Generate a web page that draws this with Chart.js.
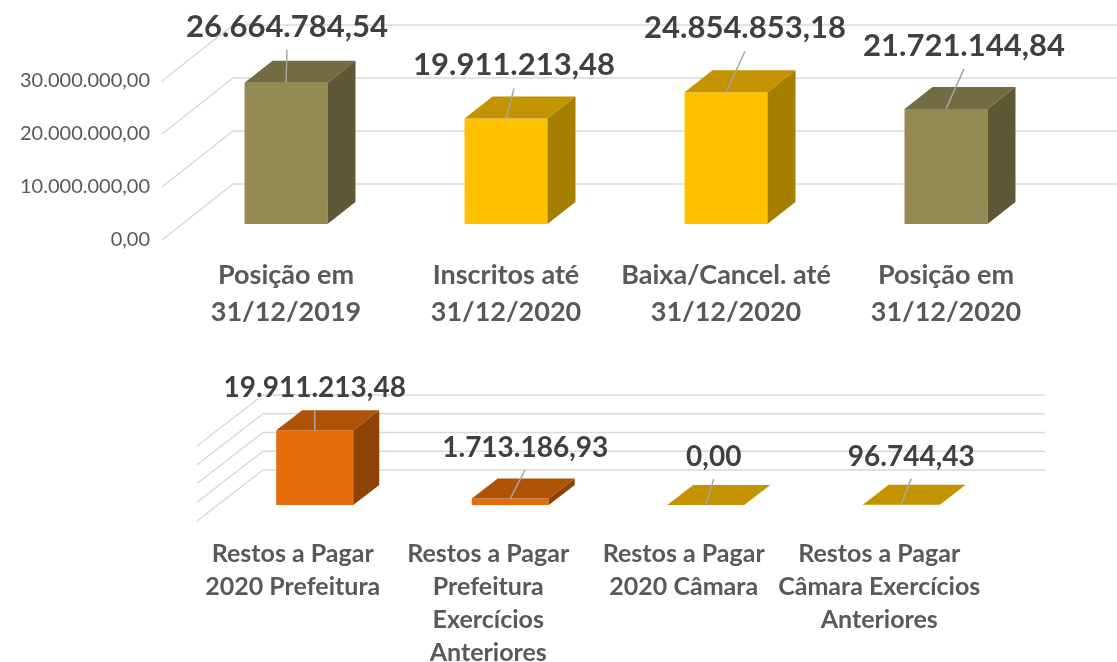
<!DOCTYPE html>
<html>
<head>
<meta charset="utf-8">
<script src="https://cdn.jsdelivr.net/npm/chart.js@4.4.1/dist/chart.umd.min.js"></script>
<style>
html, body { margin: 0; padding: 0; background: #fff; }
#wrap { position: relative; width: 1117px; height: 662px; overflow: hidden; }
#top { position: absolute; left: 0; top: 0; }
#bottom { position: absolute; left: 0; top: 345px; }
</style>
</head>
<body>
<div id="wrap">
  <canvas id="top" width="1117" height="345"></canvas>
  <canvas id="bottom" width="1117" height="317"></canvas>
</div>
<script>
// data
const topCategories = [['Posição em', '31/12/2019'], ['Inscritos até', '31/12/2020'], ['Baixa/Cancel. até', '31/12/2020'], ['Posição em', '31/12/2020']];
const topValues = [26664784.54, 19911213.48, 24854853.18, 21721144.84];
const topMax = 30000000;
const topStep = 10000000;

const bottomCategories = [['Restos a Pagar', '2020 Prefeitura'], ['Restos a Pagar', 'Prefeitura', 'Exercícios', 'Anteriores'], ['Restos a Pagar', '2020 Câmara'], ['Restos a Pagar', 'Câmara Exercícios', 'Anteriores']];
const bottomValues = [19911213.48, 1713186.93, 0, 96744.43];
const bottomMax = 20000000;
const bottomStep = 5000000;

// colours (front / top / side)
const olive = { front: '#948A54', top: '#736B42', side: '#5E5836' };
const yellow = { front: '#FFC000', top: '#C39300', side: '#A67E00' };
const orange = { front: '#E46C0A', top: '#AF5306', side: '#8E4306' };
const topPalette = [olive, yellow, yellow, olive];
const bottomPalette = [orange, orange, yellow, yellow];

function brl(v) {
    const [i, d] = Math.abs(v).toFixed(2).split('.');
    return i.replace(/\B(?=(\d{3})+(?!\d))/g, '.') + ',' + d;
}

// fake 3D: perspective grid, top and side faces, data labels with leader lines
const bars3d = {
    id: 'bars3d',
    beforeDatasetsDraw(chart, args, o) {
        const ctx = chart.ctx, y = chart.scales.y, g = o.grid;
        ctx.save();
        ctx.strokeStyle = '#D9D9D9';
        ctx.lineWidth = 1.5;
        y.ticks.forEach(t => {
            const p = y.getPixelForValue(t.value);
            ctx.beginPath();
            ctx.moveTo(g.frontX, p + g.frontDy);
            ctx.lineTo(g.backX, p + g.backDy);
            ctx.lineTo(g.right, p + g.backDy);
            ctx.stroke();
        });
        ctx.restore();
    },
    afterDatasetsDraw(chart, args, o) {
        const ctx = chart.ctx;
        const values = chart.data.datasets[0].data;
        ctx.save();
        chart.getDatasetMeta(0).data.forEach((bar, i) => {
            const { x, y, base, width } = bar.getProps(['x', 'y', 'base', 'width'], true);
            const x0 = x - width / 2, x1 = x + width / 2;
            const c = o.palette[i];

            ctx.fillStyle = c.top;
            ctx.beginPath();
            ctx.moveTo(x0, y);
            ctx.lineTo(x1, y);
            ctx.lineTo(x1 + o.dx, y + o.dy);
            ctx.lineTo(x0 + o.dx, y + o.dy);
            ctx.closePath();
            ctx.fill();

            if (base - y > 0.5) {
                ctx.fillStyle = c.side;
                ctx.beginPath();
                ctx.moveTo(x1, y);
                ctx.lineTo(x1 + o.dx, y + o.dy);
                ctx.lineTo(x1 + o.dx, base + o.dy);
                ctx.lineTo(x1, base);
                ctx.closePath();
                ctx.fill();
            }

            const lx = x + o.labelDx[i], ly = y - o.labelGap[i];
            ctx.strokeStyle = '#A6A6A6';
            ctx.lineWidth = 1.5;
            ctx.beginPath();
            ctx.moveTo(lx, ly + o.leadStart);
            ctx.lineTo(x, y);
            ctx.stroke();

            ctx.fillStyle = '#404040';
            ctx.font = 'bold ' + o.fontSize + 'px Lato';
            ctx.textAlign = 'center';
            ctx.textBaseline = 'middle';
            ctx.fillText(brl(values[i]), lx, ly);
        });
        ctx.restore();
    }
};

new Chart(document.getElementById('top'), {
    type: 'bar',
    data: {
        labels: topCategories,
        datasets: [{
            data: topValues,
            backgroundColor: topPalette.map(c => c.front),
            borderWidth: 0,
            categoryPercentage: 1,
            barPercentage: 0.377
        }]
    },
    options: {
        responsive: false,
        animation: false,
        layout: { padding: { top: 65, right: 61, bottom: 0, left: 0 } },
        plugins: {
            legend: { display: false },
            tooltip: { enabled: false },
            bars3d: {
                palette: topPalette, dx: 28, dy: -22,
                grid: { frontX: 162, backX: 233, frontDy: 16, backDy: -40, right: 1117 },
                labelDx: [1, 8, 19, 18], labelGap: [56, 53, 64, 63], leadStart: 23, fontSize: 31
            }
        },
        scales: {
            x: {
                grid: { display: false, drawTicks: false },
                border: { display: false },
                ticks: { color: '#595959', font: { family: 'Lato', size: 27, weight: 'bold', lineHeight: 37 / 27 }, padding: 33, maxRotation: 0, autoSkip: false },
                afterFit: s => { s.height = 121; }
            },
            y: {
                min: 0, max: topMax,
                grid: { display: false, drawTicks: false },
                border: { display: false },
                ticks: { stepSize: topStep, color: '#595959', font: { family: 'Lato', size: 20 }, padding: 26, labelOffset: 16, callback: v => brl(v) },
                afterFit: s => { s.width = 176; }
            }
        }
    },
    plugins: [bars3d]
});

new Chart(document.getElementById('bottom'), {
    type: 'bar',
    data: {
        labels: bottomCategories,
        datasets: [{
            data: bottomValues,
            backgroundColor: bottomPalette.map(c => c.front),
            borderWidth: 0,
            categoryPercentage: 1,
            barPercentage: 0.394
        }]
    },
    options: {
        responsive: false,
        animation: false,
        layout: { padding: { top: 85, right: 118, bottom: 0, left: 0 } },
        plugins: {
            legend: { display: false },
            tooltip: { enabled: false },
            bars3d: {
                palette: bottomPalette, dx: 26, dy: -20,
                grid: { frontX: 197, backX: 263, frontDy: 16, backDy: -35, right: 1045 },
                labelDx: [0, 15, 8, 10], labelGap: [42, 51, 48, 48], leadStart: 22, fontSize: 28
            }
        },
        scales: {
            x: {
                grid: { display: false, drawTicks: false },
                border: { display: false },
                ticks: { color: '#595959', font: { family: 'Lato', size: 25, weight: 'bold', lineHeight: 33 / 25 }, padding: 32, labelOffset: -22, maxRotation: 0, autoSkip: false },
                afterFit: s => { s.height = 157; }
            },
            y: {
                min: 0, max: bottomMax,
                grid: { display: false, drawTicks: false },
                border: { display: false },
                ticks: { stepSize: bottomStep, display: false },
                afterFit: s => { s.width = 217; }
            }
        }
    },
    plugins: [bars3d]
});
</script>
</body>
</html>
